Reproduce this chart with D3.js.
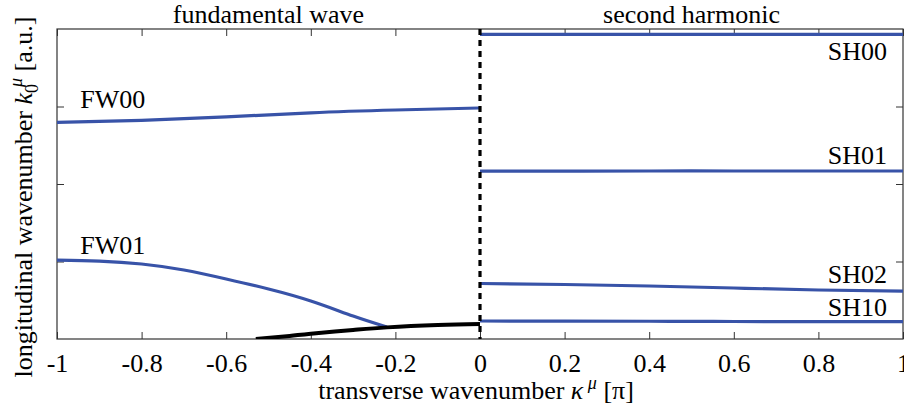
<!DOCTYPE html>
<html>
<head>
<meta charset="utf-8">
<script src="https://cdn.jsdelivr.net/npm/d3@7"></script>
<style>
  body { margin: 0; background: #fff; }
  svg text { font-family: "Liberation Serif", "Times New Roman", serif; fill: #000; }
</style>
</head>
<body>
<div id="chart"></div>
<script>
// ---- data ----
var xTicks = [-1, -0.8, -0.6, -0.4, -0.2, 0, 0.2, 0.4, 0.6, 0.8, 1];
var yTicks = [1, 2, 3];

var fw00X = [-1, -0.8, -0.6, -0.4, -0.2, 0];
var fw00Y = [2.796, 2.822, 2.865, 2.919, 2.955, 2.981];

var fw01X = [-1, -0.9, -0.8, -0.7, -0.6, -0.5, -0.4, -0.3, -0.22];
var fw01Y = [1.019, 1.006, 0.968, 0.890, 0.774, 0.645, 0.490, 0.297, 0.155];

var blackX = [-0.53, -0.45, -0.4, -0.3, -0.22, -0.1, 0];
var blackY = [0, 0.039, 0.068, 0.116, 0.150, 0.180, 0.194];

var shX = [0, 0.2, 0.4, 0.6, 0.8, 1];
var sh00Y = [3.93, 3.93, 3.93, 3.93, 3.93, 3.93];
var sh01Y = [2.166, 2.167, 2.168, 2.168, 2.168, 2.168];
var sh02Y = [0.716, 0.703, 0.684, 0.658, 0.632, 0.619];
var sh10Y = [0.232, 0.231, 0.229, 0.226, 0.224, 0.223];

var labels = [
    {text: "FW00", x: -0.945, y: 2.98, anchor: "start"},
    {text: "FW01", x: -0.945, y: 1.1, anchor: "start"},
    {text: "SH00", x: 0.962, y: 3.6, anchor: "end"},
    {text: "SH01", x: 0.962, y: 2.26, anchor: "end"},
    {text: "SH02", x: 0.962, y: 0.72, anchor: "end"},
    {text: "SH10", x: 0.962, y: 0.3, anchor: "end"}
];

var W = 904, H = 410;
var mLeft = 57, mRight = 903, mTop = 29, mBottom = 339;
var fs = 26;

var x = d3.scaleLinear().domain([-1, 1]).range([mLeft, mRight]);
var y = d3.scaleLinear().domain([0, 4]).range([mBottom, mTop]);

var svg = d3.select("#chart").append("svg")
    .attr("width", W).attr("height", H);

svg.append("defs").append("clipPath").attr("id", "plot")
  .append("rect").attr("x", mLeft).attr("y", mTop)
  .attr("width", mRight - mLeft).attr("height", mBottom - mTop);

// axes with inward ticks on all sides
var frameColor = "#333";
function styleAxis(g) {
    g.select(".domain").remove();
    g.selectAll(".tick line").attr("stroke", frameColor);
}
svg.append("g").attr("transform", "translate(0," + mBottom + ")")
    .call(d3.axisBottom(x).tickValues(xTicks).tickSize(-7)
        .tickFormat(function(d) { return String(d); }))
    .call(styleAxis)
    .call(function(g) {
        g.attr("font-size", fs).attr("font-family", null);
        g.selectAll(".tick text").attr("fill", "#000").attr("y", 33).attr("dy", 0);
    });
svg.append("g").attr("transform", "translate(0," + mTop + ")")
    .call(d3.axisTop(x).tickValues(xTicks).tickSize(-7).tickFormat(""))
    .call(styleAxis);
svg.append("g").attr("transform", "translate(" + mLeft + ",0)")
    .call(d3.axisLeft(y).tickValues(yTicks).tickSize(-7).tickFormat(""))
    .call(styleAxis);
svg.append("g").attr("transform", "translate(" + mRight + ",0)")
    .call(d3.axisRight(y).tickValues(yTicks).tickSize(-7).tickFormat(""))
    .call(styleAxis);

svg.append("rect").attr("x", mLeft).attr("y", mTop)
    .attr("width", mRight - mLeft).attr("height", mBottom - mTop)
    .attr("fill", "none").attr("stroke", frameColor).attr("stroke-width", 1.2);

var line = d3.line()
    .x(function(d) { return x(d[0]); })
    .y(function(d) { return y(d[1]); })
    .curve(d3.curveNatural);

function zip(xs, ys) { return xs.map(function(v, i) { return [v, ys[i]]; }); }

var plot = svg.append("g").attr("clip-path", "url(#plot)");
var blue = "#3853a8";

[[fw00X, fw00Y], [fw01X, fw01Y], [shX, sh00Y], [shX, sh01Y], [shX, sh02Y], [shX, sh10Y]]
    .forEach(function(s) {
        plot.append("path").attr("d", line(zip(s[0], s[1])))
            .attr("fill", "none").attr("stroke", blue).attr("stroke-width", 3.2);
    });

plot.append("path").attr("d", line(zip(blackX, blackY)))
    .attr("fill", "none").attr("stroke", "#000").attr("stroke-width", 4);

// separator between fundamental and second harmonic
svg.append("line")
    .attr("x1", x(0)).attr("x2", x(0)).attr("y1", y(4)).attr("y2", y(0))
    .attr("stroke", "#000").attr("stroke-width", 3.2).attr("stroke-dasharray", "6,5");

labels.forEach(function(l) {
    svg.append("text").attr("x", x(l.x)).attr("y", y(l.y))
        .attr("text-anchor", l.anchor).attr("font-size", fs).text(l.text);
});

// panel titles
svg.append("text").attr("x", x(-0.5)).attr("y", 23).attr("text-anchor", "middle")
    .attr("font-size", fs).text("fundamental wave");
svg.append("text").attr("x", x(0.5)).attr("y", 23).attr("text-anchor", "middle")
    .attr("font-size", fs).text("second harmonic");

// x axis title
var xt = svg.append("text").attr("x", 476).attr("y", 399).attr("text-anchor", "middle")
    .attr("font-size", fs);
xt.append("tspan").text("transverse wavenumber ");
xt.append("tspan").attr("font-style", "italic").text("\u03ba");
xt.append("tspan").attr("font-style", "italic").attr("font-size", 18).attr("dy", -10).text(" \u03bc");
xt.append("tspan").attr("dy", 10).text(" [\u03c0]");

// y axis title
var yt = svg.append("text").attr("transform", "translate(32,197) rotate(-90)")
    .attr("text-anchor", "middle").attr("font-size", fs);
yt.append("tspan").text("longitudinal wavenumber ");
yt.append("tspan").attr("font-style", "italic").text("k");
yt.append("tspan").attr("font-size", 18).attr("dy", 6).text("0");
yt.append("tspan").attr("font-style", "italic").attr("font-size", 18).attr("dx", -3).attr("dy", -16).text("\u03bc");
yt.append("tspan").attr("dy", 10).text(" [a.u.]");
</script>
</body>
</html>
